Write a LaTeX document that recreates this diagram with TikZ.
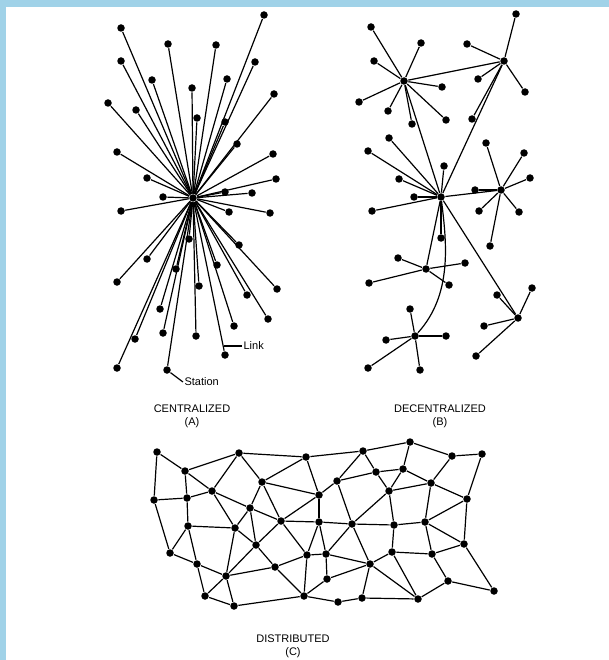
\documentclass[tikz,border=0pt]{standalone}
\usepackage{fontspec}
\setmainfont{Liberation Sans}
\definecolor{skyblue}{RGB}{160,210,232}
\tikzset{
  station/.style={fill=black,inner sep=0pt,minimum size=7.5pt,shape=circle},
  caption/.style={align=center,font=\fontsize{11}{13}\selectfont,inner sep=0pt},
  tag/.style={font=\fontsize{11}{12}\selectfont,inner sep=1pt}
}

\begin{document}
\begin{tikzpicture}[x=1pt,y=-1pt,line width=1.2pt]
      \useasboundingbox (0,0) rectangle (609,660) ;
      \fill[skyblue] (0,0) rectangle (609,660) ;
      \fill[white] (6,7) rectangle (609,660) ;
      % centralized
      \node[station] (hub) at (193,198) {} ;
      \foreach \x/\y [count=\i] in {264/15,121/28,168/44,216/45,121/61,255/62,
          152/80,227/79,192/88,274/94,108/103,136/110,197/118,225/122,237/144,
          117/152,273/154,147/178,276/179,163/197,225/192,252/193,121/211,
          229/212,270/213,189/239,239/245,147/259,217/265,176/269,117/282,
          199/286,277/289,247/295,160/309,268/319,234/326,163/333,196/336,
          135/339,225/355,117/368,167/370} {
        \node[station] (a\i) at (\x,\y) {} ;
        \draw (hub) -- (a\i) ;
      }
      \node[tag,anchor=west] (link) at (242,346) {Link} ;
      \coordinate (linkpt) at (224,346) ;
      \draw (link.west) -- (linkpt) ;
      \node[tag,anchor=west] (station) at (183,382) {Station} ;
      \draw (a43) -- (station.west) ;
      \node[caption] (capa) at (192,416) {CENTRALIZED\\(A)} ;
      % decentralized
      \node[station] (b1) at (404,81) {} ;
      \node[station] (b2) at (504,61) {} ;
      \node[station] (b3) at (441,197) {} ;
      \node[station] (b4) at (501,190) {} ;
      \node[station] (b5) at (426,269) {} ;
      \node[station] (b6) at (415,336) {} ;
      \node[station] (b7) at (518,318) {} ;
      \foreach \h/\x/\y [count=\i] in {1/371/27,1/421/43,1/374/61,1/442/87,
          1/359/102,1/388/111,1/412/124,1/446/120,
          2/516/14,2/467/44,2/478/79,2/525/92,2/472/119,
          3/389/138,3/368/151,3/444/166,3/399/179,3/414/197,3/372/211,3/441/238,
          4/486/143,4/524/153,4/530/178,4/475/190,4/479/211,4/519/212,4/490/246,
          5/398/258,5/465/263,5/369/283,5/449/285,
          6/410/309,6/386/340,6/446/336,6/368/368,6/420/370,
          7/497/295,7/532/288,7/484/326,7/476/356} {
        \node[station] (bl\i) at (\x,\y) {} ;
        \draw (b\h) -- (bl\i) ;
      }
      \draw (b1) -- (b2) ;
      \draw (b1) -- (b3) ;
      \draw (b2) -- (b3) ;
      \draw (b3) -- (b4) ;
      \draw (b3) -- (b5) ;
      \draw (b3) -- (b7) ;
      \draw (b3) .. controls (447,245) and (452,295) .. (b6) ;
      \node[caption] (capb) at (440,416) {DECENTRALIZED\\(B)} ;
      % distributed
      \foreach \x/\y [count=\i] in {157/452,185/471,239/453,306/457,363/451,
          410/442,452/456,482/454,154/500,187/498,212/491,262/482,337/481,
          376/472,403/469,431/483,319/495,389/491,467/499,250/508,188/526,
          235/528,281/521,319/522,352/524,394/525,425/522,256/545,464/544,
          170/553,307/555,326/554,392/552,432/554,197/564,275/567,370/564,
          226/576,327/579,448/581,205/596,304/596,234/606,338/602,362/598,
          418/599,494/591}
        \node[station] (d\i) at (\x,\y) {} ;
      \foreach \a/\b in {1/2,1/9,2/3,2/10,2/11,3/4,3/11,3/12,4/5,4/12,4/17,
          5/6,5/13,5/14,6/7,6/15,7/8,7/16,8/19,9/10,9/30,10/11,10/21,11/20,
          11/22,12/17,12/20,12/23,13/14,13/17,13/25,14/15,14/18,15/16,15/18,
          16/18,16/19,16/27,17/23,17/24,18/25,18/26,19/27,19/29,20/22,20/23,
          20/28,21/22,21/30,21/35,22/28,22/38,23/24,23/28,23/31,24/25,24/31,
          24/32,25/26,25/32,25/37,26/27,26/33,27/29,27/34,28/36,28/38,29/34,
          29/47,30/35,31/32,31/36,31/42,32/37,32/39,33/34,33/37,33/46,34/40,
          35/38,35/41,36/38,36/42,37/39,37/45,37/46,38/41,38/43,39/42,40/46,
          40/47,41/43,42/43,42/44,44/45,45/46}
        \draw (d\a) -- (d\b) ;
      \node[caption] (capc) at (293,646) {DISTRIBUTED\\(C)} ;
    \end{tikzpicture}
\end{document}
